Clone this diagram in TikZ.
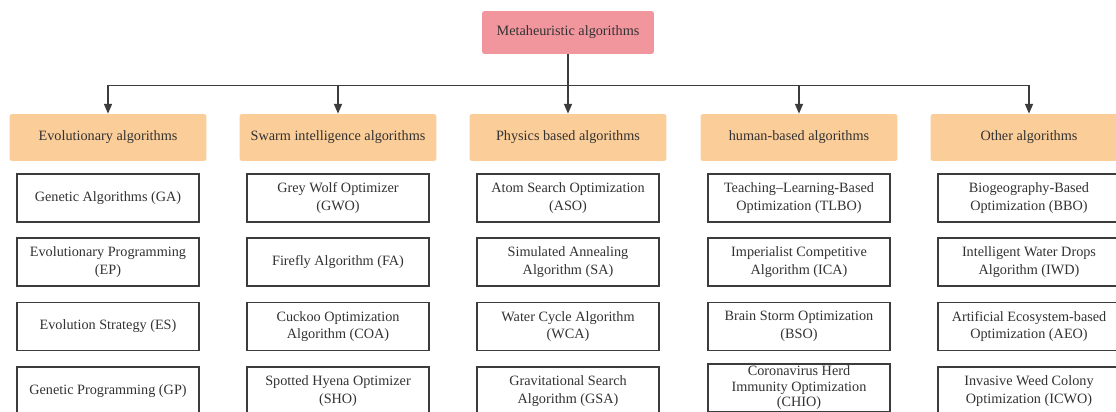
\documentclass[tikz,border=0pt]{standalone}
\usepackage{fontspec}
\setmainfont{Liberation Serif}
\usetikzlibrary{arrows.meta}

\definecolor{rootpink}{RGB}{242,150,158}
\definecolor{catorange}{RGB}{251,205,152}
\definecolor{linegray}{RGB}{60,60,60}
\definecolor{textgray}{RGB}{50,50,50}

\begin{document}
\begin{tikzpicture}[x=0.02cm, y=-0.02cm,
    every node/.style={font=\fontsize{8.1}{10}\selectfont, text=textgray, align=center, inner sep=0pt},
    rootbox/.style={fill=rootpink, rounded corners=1.5pt, minimum width=3.44cm, minimum height=0.86cm},
    catbox/.style={fill=catorange, rounded corners=1.5pt, minimum width=3.94cm, minimum height=0.94cm},
    algbox/.style={draw=linegray, line width=1.1pt, fill=white, minimum width=3.64cm, minimum height=0.96cm},
    link/.style={draw=linegray, line width=0.8pt, -{Triangle[length=5.5pt,width=4.5pt]}}]
    % Canvas
    \clip (0,0) rectangle (1116,412);
    \fill[white] (0,0) rectangle (1116,412);

    % Root
    \node[rootbox] (meta) at (568,32.5) {Metaheuristic algorithms};

    % Categories
    \node[catbox] (evo)   at (108,137.5)  {Evolutionary algorithms};
    \node[catbox] (swarm) at (338,137.5)  {Swarm intelligence algorithms};
    \node[catbox] (phys)  at (568,137.5)  {Physics based algorithms};
    \node[catbox] (human) at (799,137.5)  {human-based algorithms};
    \node[catbox] (other) at (1029,137.5) {Other algorithms};

    % Connectors
    \draw[link] (meta.south) -- (phys.north);
    \draw[link] (meta.south) -- ++(0,31) -| (evo.north);
    \draw[link] (meta.south) -- ++(0,31) -| (swarm.north);
    \draw[link] (meta.south) -- ++(0,31) -| (human.north);
    \draw[link] (meta.south) -- ++(0,31) -| (other.north);

    % -- evolutionary
    \node[algbox] (ga)  at (108,198) {Genetic Algorithms (GA)};
    \node[algbox] (ep)  at (108,262) {Evolutionary Programming\\(EP)};
    \node[algbox] (es)  at (108,326.5) {Evolution Strategy (ES)};
    \node[algbox] (gp)  at (108,391) {Genetic Programming (GP)};

    % -- swarm
    \node[algbox] (gwo) at (338,198) {Grey Wolf Optimizer\\(GWO)};
    \node[algbox] (fa)  at (338,262) {Firefly Algorithm (FA)};
    \node[algbox] (coa) at (338,326.5) {Cuckoo Optimization\\Algorithm (COA)};
    \node[algbox] (sho) at (338,391) {Spotted Hyena Optimizer\\(SHO)};

    % -- physics
    \node[algbox] (aso) at (568,198) {Atom Search Optimization\\(ASO)};
    \node[algbox] (sa)  at (568,262) {Simulated Annealing\\Algorithm (SA)};
    \node[algbox] (wca) at (568,326.5) {Water Cycle Algorithm\\(WCA)};
    \node[algbox] (gsa) at (568,391) {Gravitational Search\\Algorithm (GSA)};

    % -- human
    \node[algbox] (tlbo) at (799,198) {Teaching--Learning-Based\\Optimization (TLBO)};
    \node[algbox] (ica)  at (799,262) {Imperialist Competitive\\Algorithm (ICA)};
    \node[algbox] (bso)  at (799,326.5) {Brain Storm Optimization\\(BSO)};
    \node[algbox, font=\fontsize{8.1}{8.8}\selectfont] (chio) at (799,388) {Coronavirus Herd\\Immunity Optimization\\(CHIO)};

    % -- other
    \node[algbox] (bbo)  at (1029,198) {Biogeography-Based\\Optimization (BBO)};
    \node[algbox] (iwd)  at (1029,262) {Intelligent Water Drops\\Algorithm (IWD)};
    \node[algbox] (aeo)  at (1029,326.5) {Artificial Ecosystem-based\\Optimization (AEO)};
    \node[algbox] (icwo) at (1029,391) {Invasive Weed Colony\\Optimization (ICWO)};
\end{tikzpicture}
\end{document}
